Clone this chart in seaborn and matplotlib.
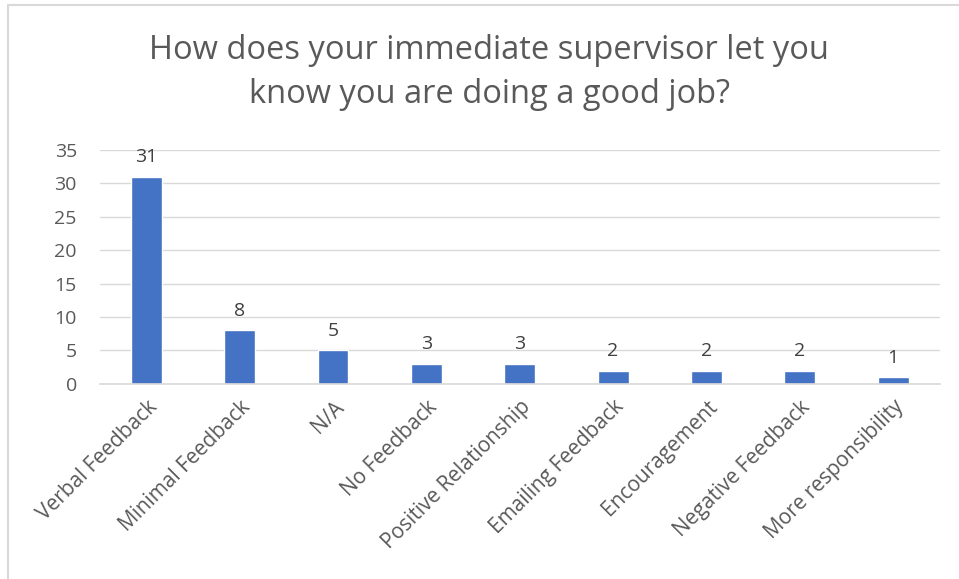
import pandas as pd
import matplotlib.pyplot as plt
import matplotlib.patches as patches
import seaborn as sns

# datos del grafico
categories = ['Verbal Feedback', 'Minimal Feedback', 'N/A', 'No Feedback',
              'Positive Relationship', 'Emailing Feedback', 'Encouragement',
              'Negative Feedback', 'More responsibility']
counts = [31, 8, 5, 3, 3, 2, 2, 2, 1]
yticks = [0, 5, 10, 15, 20, 25, 30, 35]
title = 'How does your immediate supervisor let you\nknow you are doing a good job?'

BAR_COLOR = '#4472C4'
GRID_COLOR = '#D9D9D9'
TEXT_COLOR = '#595959'


def main():
    sns.set_style('white')
    plt.rcParams['font.family'] = ['Open Sans', 'DejaVu Sans']

    df = pd.DataFrame({'category': categories, 'count': counts})

    fig = plt.figure(figsize=(9.59, 5.79), dpi=100)
    ax = fig.add_axes([0.104, 0.337, 0.876, 0.404])

    sns.barplot(data=df, x='category', y='count', color=BAR_COLOR,
                width=0.33, saturation=1, ax=ax)

    # etiquetas de datos
    for bar, val in zip(ax.patches, counts):
        ax.text(bar.get_x() + bar.get_width() / 2, bar.get_height() + 1.6,
                str(val), ha='center', va='bottom', fontsize=14, color='#404040')

    ax.set_ylim(0, 35)
    ax.set_yticks(yticks)
    ax.set_xlim(-0.5, len(categories) - 0.5)
    ax.yaxis.grid(True, color=GRID_COLOR, linewidth=1)
    ax.set_axisbelow(True)
    for side in ['top', 'right', 'left']:
        ax.spines[side].set_visible(False)
    ax.spines['bottom'].set_color(GRID_COLOR)
    ax.spines['bottom'].set_linewidth(1.2)

    ax.set_xlabel('')
    ax.set_ylabel('')
    ax.tick_params(axis='y', length=0, labelsize=14, colors=TEXT_COLOR, pad=16.5)
    ax.tick_params(axis='x', length=0, labelsize=15, colors=TEXT_COLOR, pad=9)
    plt.setp(ax.get_xticklabels(), rotation=45, ha='right', rotation_mode='anchor')

    fig.text(0.510, 0.874, title, ha='center', va='center', fontsize=23.5,
             color=TEXT_COLOR, linespacing=1.44)

    # borde del area del grafico
    fig.patches.append(patches.Rectangle((8 / 959, -0.1), 1.1, 1 - 5 / 579 + 0.1,
                                         transform=fig.transFigure, fill=False,
                                         edgecolor=GRID_COLOR, linewidth=1.5))

    fig.savefig('out.png', dpi=100)


if __name__ == '__main__':
    main()
